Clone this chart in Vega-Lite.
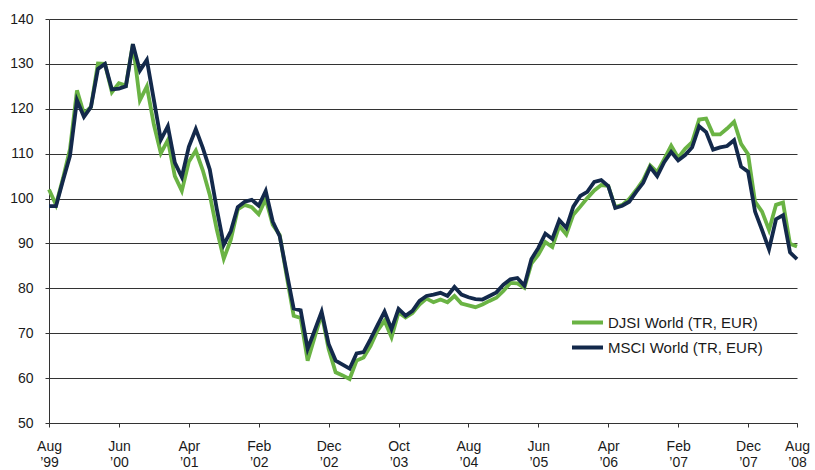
{
  "$schema": "https://vega.github.io/schema/vega-lite/v6.json",
  "autosize": {"type": "none"},
  "padding": {"left": 49, "top": 19, "right": 18, "bottom": 47},
  "width": 748,
  "height": 404,
  "background": "white",
  "config": {
    "font": "Liberation Sans",
    "view": {"stroke": null},
    "axis": {"labelFont": "Liberation Sans", "labelColor": "#1a1a1a", "domainColor": "#333333", "tickColor": "#333333", "domainWidth": 1, "tickWidth": 1}
  },
  "data": {"values": [
    {"i":0,"series":"DJSI World (TR, EUR)","value":102.0},{"i":1,"series":"DJSI World (TR, EUR)","value":98.6},{"i":2,"series":"DJSI World (TR, EUR)","value":104.5},{"i":3,"series":"DJSI World (TR, EUR)","value":111.0},{"i":4,"series":"DJSI World (TR, EUR)","value":124.1},{"i":5,"series":"DJSI World (TR, EUR)","value":118.9},{"i":6,"series":"DJSI World (TR, EUR)","value":120.4},{"i":7,"series":"DJSI World (TR, EUR)","value":130.1},{"i":8,"series":"DJSI World (TR, EUR)","value":130.0},{"i":9,"series":"DJSI World (TR, EUR)","value":123.7},
    {"i":10,"series":"DJSI World (TR, EUR)","value":125.7},{"i":11,"series":"DJSI World (TR, EUR)","value":125.2},{"i":12,"series":"DJSI World (TR, EUR)","value":134.4},{"i":13,"series":"DJSI World (TR, EUR)","value":121.9},{"i":14,"series":"DJSI World (TR, EUR)","value":125.0},{"i":15,"series":"DJSI World (TR, EUR)","value":116.5},{"i":16,"series":"DJSI World (TR, EUR)","value":110.1},{"i":17,"series":"DJSI World (TR, EUR)","value":113.0},{"i":18,"series":"DJSI World (TR, EUR)","value":105.0},{"i":19,"series":"DJSI World (TR, EUR)","value":101.7},
    {"i":20,"series":"DJSI World (TR, EUR)","value":108.2},{"i":21,"series":"DJSI World (TR, EUR)","value":110.7},{"i":22,"series":"DJSI World (TR, EUR)","value":106.3},{"i":23,"series":"DJSI World (TR, EUR)","value":100.8},{"i":24,"series":"DJSI World (TR, EUR)","value":93.1},{"i":25,"series":"DJSI World (TR, EUR)","value":86.6},{"i":26,"series":"DJSI World (TR, EUR)","value":90.8},{"i":27,"series":"DJSI World (TR, EUR)","value":97.6},{"i":28,"series":"DJSI World (TR, EUR)","value":98.6},{"i":29,"series":"DJSI World (TR, EUR)","value":98.1},
    {"i":30,"series":"DJSI World (TR, EUR)","value":96.5},{"i":31,"series":"DJSI World (TR, EUR)","value":99.9},{"i":32,"series":"DJSI World (TR, EUR)","value":94.2},{"i":33,"series":"DJSI World (TR, EUR)","value":91.9},{"i":34,"series":"DJSI World (TR, EUR)","value":82.7},{"i":35,"series":"DJSI World (TR, EUR)","value":73.9},{"i":36,"series":"DJSI World (TR, EUR)","value":73.4},{"i":37,"series":"DJSI World (TR, EUR)","value":63.9},{"i":38,"series":"DJSI World (TR, EUR)","value":69.1},{"i":39,"series":"DJSI World (TR, EUR)","value":74.3},
    {"i":40,"series":"DJSI World (TR, EUR)","value":66.5},{"i":41,"series":"DJSI World (TR, EUR)","value":61.3},{"i":42,"series":"DJSI World (TR, EUR)","value":60.6},{"i":43,"series":"DJSI World (TR, EUR)","value":59.8},{"i":44,"series":"DJSI World (TR, EUR)","value":63.9},{"i":45,"series":"DJSI World (TR, EUR)","value":64.6},{"i":46,"series":"DJSI World (TR, EUR)","value":67.2},{"i":47,"series":"DJSI World (TR, EUR)","value":70.6},{"i":48,"series":"DJSI World (TR, EUR)","value":72.8},{"i":49,"series":"DJSI World (TR, EUR)","value":69.1},
    {"i":50,"series":"DJSI World (TR, EUR)","value":74.6},{"i":51,"series":"DJSI World (TR, EUR)","value":73.5},{"i":52,"series":"DJSI World (TR, EUR)","value":74.5},{"i":53,"series":"DJSI World (TR, EUR)","value":76.4},{"i":54,"series":"DJSI World (TR, EUR)","value":77.7},{"i":55,"series":"DJSI World (TR, EUR)","value":76.9},{"i":56,"series":"DJSI World (TR, EUR)","value":77.5},{"i":57,"series":"DJSI World (TR, EUR)","value":76.9},{"i":58,"series":"DJSI World (TR, EUR)","value":78.3},{"i":59,"series":"DJSI World (TR, EUR)","value":76.6},
    {"i":60,"series":"DJSI World (TR, EUR)","value":76.2},{"i":61,"series":"DJSI World (TR, EUR)","value":75.8},{"i":62,"series":"DJSI World (TR, EUR)","value":76.4},{"i":63,"series":"DJSI World (TR, EUR)","value":77.2},{"i":64,"series":"DJSI World (TR, EUR)","value":77.9},{"i":65,"series":"DJSI World (TR, EUR)","value":79.4},{"i":66,"series":"DJSI World (TR, EUR)","value":81.2},{"i":67,"series":"DJSI World (TR, EUR)","value":81.1},{"i":68,"series":"DJSI World (TR, EUR)","value":80.1},{"i":69,"series":"DJSI World (TR, EUR)","value":85.5},
    {"i":70,"series":"DJSI World (TR, EUR)","value":87.5},{"i":71,"series":"DJSI World (TR, EUR)","value":90.3},{"i":72,"series":"DJSI World (TR, EUR)","value":89.2},{"i":73,"series":"DJSI World (TR, EUR)","value":93.9},{"i":74,"series":"DJSI World (TR, EUR)","value":92.0},{"i":75,"series":"DJSI World (TR, EUR)","value":96.4},{"i":76,"series":"DJSI World (TR, EUR)","value":98.2},{"i":77,"series":"DJSI World (TR, EUR)","value":100.1},{"i":78,"series":"DJSI World (TR, EUR)","value":101.8},{"i":79,"series":"DJSI World (TR, EUR)","value":103.0},
    {"i":80,"series":"DJSI World (TR, EUR)","value":102.8},{"i":81,"series":"DJSI World (TR, EUR)","value":98.1},{"i":82,"series":"DJSI World (TR, EUR)","value":98.6},{"i":83,"series":"DJSI World (TR, EUR)","value":99.9},{"i":84,"series":"DJSI World (TR, EUR)","value":101.9},{"i":85,"series":"DJSI World (TR, EUR)","value":104.1},{"i":86,"series":"DJSI World (TR, EUR)","value":107.4},{"i":87,"series":"DJSI World (TR, EUR)","value":105.9},{"i":88,"series":"DJSI World (TR, EUR)","value":108.8},{"i":89,"series":"DJSI World (TR, EUR)","value":111.8},
    {"i":90,"series":"DJSI World (TR, EUR)","value":109.1},{"i":91,"series":"DJSI World (TR, EUR)","value":111.1},{"i":92,"series":"DJSI World (TR, EUR)","value":112.6},{"i":93,"series":"DJSI World (TR, EUR)","value":117.6},{"i":94,"series":"DJSI World (TR, EUR)","value":117.8},{"i":95,"series":"DJSI World (TR, EUR)","value":114.3},{"i":96,"series":"DJSI World (TR, EUR)","value":114.3},{"i":97,"series":"DJSI World (TR, EUR)","value":115.6},{"i":98,"series":"DJSI World (TR, EUR)","value":117.1},{"i":99,"series":"DJSI World (TR, EUR)","value":112.2},
    {"i":100,"series":"DJSI World (TR, EUR)","value":109.9},{"i":101,"series":"DJSI World (TR, EUR)","value":99.3},{"i":102,"series":"DJSI World (TR, EUR)","value":97.1},{"i":103,"series":"DJSI World (TR, EUR)","value":93.0},{"i":104,"series":"DJSI World (TR, EUR)","value":98.6},{"i":105,"series":"DJSI World (TR, EUR)","value":99.1},{"i":106,"series":"DJSI World (TR, EUR)","value":89.9},{"i":107,"series":"DJSI World (TR, EUR)","value":89.3},
    {"i":0,"series":"MSCI World (TR, EUR)","value":98.3},{"i":1,"series":"MSCI World (TR, EUR)","value":98.3},{"i":2,"series":"MSCI World (TR, EUR)","value":104.0},{"i":3,"series":"MSCI World (TR, EUR)","value":109.5},{"i":4,"series":"MSCI World (TR, EUR)","value":121.9},{"i":5,"series":"MSCI World (TR, EUR)","value":118.2},{"i":6,"series":"MSCI World (TR, EUR)","value":120.4},{"i":7,"series":"MSCI World (TR, EUR)","value":128.9},{"i":8,"series":"MSCI World (TR, EUR)","value":130.0},{"i":9,"series":"MSCI World (TR, EUR)","value":124.3},
    {"i":10,"series":"MSCI World (TR, EUR)","value":124.5},{"i":11,"series":"MSCI World (TR, EUR)","value":125.0},{"i":12,"series":"MSCI World (TR, EUR)","value":134.4},{"i":13,"series":"MSCI World (TR, EUR)","value":128.5},{"i":14,"series":"MSCI World (TR, EUR)","value":130.9},{"i":15,"series":"MSCI World (TR, EUR)","value":122.0},{"i":16,"series":"MSCI World (TR, EUR)","value":113.1},{"i":17,"series":"MSCI World (TR, EUR)","value":116.1},{"i":18,"series":"MSCI World (TR, EUR)","value":108.0},{"i":19,"series":"MSCI World (TR, EUR)","value":104.8},
    {"i":20,"series":"MSCI World (TR, EUR)","value":111.5},{"i":21,"series":"MSCI World (TR, EUR)","value":115.5},{"i":22,"series":"MSCI World (TR, EUR)","value":111.3},{"i":23,"series":"MSCI World (TR, EUR)","value":106.5},{"i":24,"series":"MSCI World (TR, EUR)","value":97.7},{"i":25,"series":"MSCI World (TR, EUR)","value":89.7},{"i":26,"series":"MSCI World (TR, EUR)","value":92.7},{"i":27,"series":"MSCI World (TR, EUR)","value":98.1},{"i":28,"series":"MSCI World (TR, EUR)","value":99.3},{"i":29,"series":"MSCI World (TR, EUR)","value":99.7},
    {"i":30,"series":"MSCI World (TR, EUR)","value":98.4},{"i":31,"series":"MSCI World (TR, EUR)","value":101.7},{"i":32,"series":"MSCI World (TR, EUR)","value":94.9},{"i":33,"series":"MSCI World (TR, EUR)","value":91.6},{"i":34,"series":"MSCI World (TR, EUR)","value":83.5},{"i":35,"series":"MSCI World (TR, EUR)","value":75.5},{"i":36,"series":"MSCI World (TR, EUR)","value":75.1},{"i":37,"series":"MSCI World (TR, EUR)","value":66.5},{"i":38,"series":"MSCI World (TR, EUR)","value":70.6},{"i":39,"series":"MSCI World (TR, EUR)","value":74.8},
    {"i":40,"series":"MSCI World (TR, EUR)","value":67.6},{"i":41,"series":"MSCI World (TR, EUR)","value":63.9},{"i":42,"series":"MSCI World (TR, EUR)","value":63.0},{"i":43,"series":"MSCI World (TR, EUR)","value":62.1},{"i":44,"series":"MSCI World (TR, EUR)","value":65.5},{"i":45,"series":"MSCI World (TR, EUR)","value":65.8},{"i":46,"series":"MSCI World (TR, EUR)","value":68.7},{"i":47,"series":"MSCI World (TR, EUR)","value":71.8},{"i":48,"series":"MSCI World (TR, EUR)","value":74.8},{"i":49,"series":"MSCI World (TR, EUR)","value":70.9},
    {"i":50,"series":"MSCI World (TR, EUR)","value":75.4},{"i":51,"series":"MSCI World (TR, EUR)","value":73.9},{"i":52,"series":"MSCI World (TR, EUR)","value":75.0},{"i":53,"series":"MSCI World (TR, EUR)","value":77.2},{"i":54,"series":"MSCI World (TR, EUR)","value":78.3},{"i":55,"series":"MSCI World (TR, EUR)","value":78.6},{"i":56,"series":"MSCI World (TR, EUR)","value":79.0},{"i":57,"series":"MSCI World (TR, EUR)","value":78.3},{"i":58,"series":"MSCI World (TR, EUR)","value":80.3},{"i":59,"series":"MSCI World (TR, EUR)","value":78.6},
    {"i":60,"series":"MSCI World (TR, EUR)","value":78.0},{"i":61,"series":"MSCI World (TR, EUR)","value":77.6},{"i":62,"series":"MSCI World (TR, EUR)","value":77.5},{"i":63,"series":"MSCI World (TR, EUR)","value":78.3},{"i":64,"series":"MSCI World (TR, EUR)","value":79.1},{"i":65,"series":"MSCI World (TR, EUR)","value":80.8},{"i":66,"series":"MSCI World (TR, EUR)","value":82.0},{"i":67,"series":"MSCI World (TR, EUR)","value":82.3},{"i":68,"series":"MSCI World (TR, EUR)","value":80.6},{"i":69,"series":"MSCI World (TR, EUR)","value":86.5},
    {"i":70,"series":"MSCI World (TR, EUR)","value":89.0},{"i":71,"series":"MSCI World (TR, EUR)","value":92.2},{"i":72,"series":"MSCI World (TR, EUR)","value":91.0},{"i":73,"series":"MSCI World (TR, EUR)","value":95.2},{"i":74,"series":"MSCI World (TR, EUR)","value":93.5},{"i":75,"series":"MSCI World (TR, EUR)","value":98.2},{"i":76,"series":"MSCI World (TR, EUR)","value":100.6},{"i":77,"series":"MSCI World (TR, EUR)","value":101.5},{"i":78,"series":"MSCI World (TR, EUR)","value":103.7},{"i":79,"series":"MSCI World (TR, EUR)","value":104.1},
    {"i":80,"series":"MSCI World (TR, EUR)","value":102.8},{"i":81,"series":"MSCI World (TR, EUR)","value":97.9},{"i":82,"series":"MSCI World (TR, EUR)","value":98.4},{"i":83,"series":"MSCI World (TR, EUR)","value":99.3},{"i":84,"series":"MSCI World (TR, EUR)","value":101.5},{"i":85,"series":"MSCI World (TR, EUR)","value":103.5},{"i":86,"series":"MSCI World (TR, EUR)","value":107.0},{"i":87,"series":"MSCI World (TR, EUR)","value":105.0},{"i":88,"series":"MSCI World (TR, EUR)","value":108.1},{"i":89,"series":"MSCI World (TR, EUR)","value":110.4},
    {"i":90,"series":"MSCI World (TR, EUR)","value":108.5},{"i":91,"series":"MSCI World (TR, EUR)","value":109.7},{"i":92,"series":"MSCI World (TR, EUR)","value":111.4},{"i":93,"series":"MSCI World (TR, EUR)","value":116.1},{"i":94,"series":"MSCI World (TR, EUR)","value":114.8},{"i":95,"series":"MSCI World (TR, EUR)","value":110.9},{"i":96,"series":"MSCI World (TR, EUR)","value":111.4},{"i":97,"series":"MSCI World (TR, EUR)","value":111.7},{"i":98,"series":"MSCI World (TR, EUR)","value":113.0},{"i":99,"series":"MSCI World (TR, EUR)","value":107.1},
    {"i":100,"series":"MSCI World (TR, EUR)","value":106.0},{"i":101,"series":"MSCI World (TR, EUR)","value":97.1},{"i":102,"series":"MSCI World (TR, EUR)","value":93.0},{"i":103,"series":"MSCI World (TR, EUR)","value":88.7},{"i":104,"series":"MSCI World (TR, EUR)","value":95.4},{"i":105,"series":"MSCI World (TR, EUR)","value":96.3},{"i":106,"series":"MSCI World (TR, EUR)","value":88.0},{"i":107,"series":"MSCI World (TR, EUR)","value":86.5}
  ]},
  "mark": {"type": "line", "strokeWidth": 3.8, "strokeJoin": "miter"},
  "encoding": {
    "x": {
      "field": "i", "type": "quantitative",
      "scale": {"domain": [0, 107], "nice": false, "zero": false},
      "axis": {
        "title": null, "grid": false,
        "values": [0, 10, 20, 30, 40, 50, 60, 70, 80, 90, 100, 107],
        "labelExpr": "split(['Aug|’99','Jun|’00','Apr|’01','Feb|’02','Dec|’02','Oct|’03','Aug|’04','Jun|’05','Apr|’06','Feb|’07','Dec|’07','Aug|’08'][datum.value == 107 ? 11 : round(datum.value / 10)], '|')",
        "labelFontSize": 14, "labelLineHeight": 16, "labelPadding": 12, "tickSize": 4,
        "labelAlign": "center", "labelBaseline": "top", "labelFlush": false, "labelOverlap": false
      }
    },
    "y": {
      "field": "value", "type": "quantitative",
      "scale": {"domain": [50, 140], "nice": false, "zero": false},
      "axis": {
        "title": null, "grid": true, "gridColor": "#333333", "gridWidth": 1,
        "values": [50, 60, 70, 80, 90, 100, 110, 120, 130, 140],
        "labelFontSize": 14, "labelPadding": 12, "tickSize": 4
      }
    },
    "color": {
      "field": "series", "type": "nominal",
      "scale": {"domain": ["DJSI World (TR, EUR)", "MSCI World (TR, EUR)"], "range": ["#6ab344", "#13294b"]},
      "legend": {
        "title": null, "orient": "none", "legendX": 531, "legendY": 296,
        "symbolType": "M-4,0H4", "symbolSize": 60, "symbolStrokeWidth": 4,
        "labelFontSize": 15, "labelColor": "#1a1a1a", "labelFont": "Liberation Sans",
        "labelOffset": 13, "rowPadding": 8, "padding": 0, "labelLimit": 300
      }
    }
  }
}
